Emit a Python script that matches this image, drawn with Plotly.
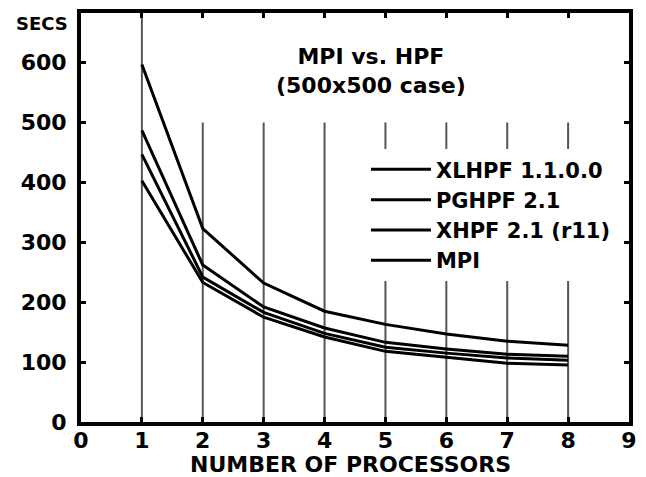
import plotly.graph_objects as go

processors = [1, 2, 3, 4, 5, 6, 7, 8]
series_names = ["XLHPF 1.1.0.0", "PGHPF 2.1", "XHPF 2.1 (r11)", "MPI"]
xlhpf = [597, 323, 232, 185, 163, 147, 135, 128]
pghpf = [487, 262, 192, 157, 133, 122, 113, 110]
xhpf = [447, 242, 183, 148, 125, 115, 107, 103]
mpi = [403, 233, 175, 142, 118, 108, 98, 95]
series_values = [xlhpf, pghpf, xhpf, mpi]

grid_x = [1, 2, 3, 4, 5, 6, 7, 8]
grid_top = [683, 500, 500, 500, 500, 500, 500, 500]

x_ticks = [0, 1, 2, 3, 4, 5, 6, 7, 8, 9]
y_ticks = [0, 100, 200, 300, 400, 500, 600]

FONT = "DejaVu Sans"

fig = go.Figure()

gx, gy = [], []
for x, top in zip(grid_x, grid_top):
    gx += [x, x, None]
    gy += [0, top, None]
fig.add_trace(go.Scatter(x=gx, y=gy, mode="lines",
                         line=dict(color="#555555", width=2),
                         showlegend=False, hoverinfo="skip"))

for name, vals in zip(series_names, series_values):
    fig.add_trace(go.Scatter(x=processors, y=vals, mode="lines", name=name,
                             line=dict(color="black", width=3)))

fig.update_layout(
    width=646, height=477,
    margin=dict(l=81, r=9, t=12, b=55),
    paper_bgcolor="white", plot_bgcolor="white",
    font=dict(family=FONT, size=22, color="black", weight="bold"),
    showlegend=True,
    legend=dict(x=0.52, y=0.667, xanchor="left", yanchor="top",
                bgcolor="white", borderwidth=0,
                font=dict(family=FONT, size=21, color="black", weight="bold"),
                tracegroupgap=0, itemwidth=60),
    xaxis=dict(range=[0, 9], tickvals=x_ticks, ticktext=[str(v) for v in x_ticks],
               showgrid=False, zeroline=False, showline=True, linecolor="black",
               linewidth=4, mirror="ticks", ticks="inside", ticklen=5,
               tickwidth=3, tickcolor="black", ticklabelstandoff=-4,
               tickfont=dict(family=FONT, size=22, weight="bold")),
    yaxis=dict(range=[0, 683], tickvals=y_ticks, ticktext=[str(v) for v in y_ticks],
               showgrid=False, zeroline=False, showline=True, linecolor="black",
               linewidth=4, mirror="ticks", ticks="inside", ticklen=5,
               tickwidth=3, tickcolor="black", ticklabelstandoff=6,
               tickfont=dict(family=FONT, size=22, weight="bold")),
    annotations=[
        dict(text="SECS", xref="paper", yref="paper", x=-0.02, y=0.975,
             xanchor="right", yanchor="middle", showarrow=False,
             font=dict(family=FONT, size=18, weight="bold")),
        dict(text="MPI vs. HPF<br>(500x500 case)", xref="paper", yref="paper",
             x=(375 - 81) / 556, y=(422 - 70) / 410, xanchor="center", yanchor="middle",
             showarrow=False, align="center",
             font=dict(family=FONT, size=22, weight="bold")),
        dict(text="NUMBER OF PROCESSORS", xref="paper", yref="paper",
             x=(354 - 81) / 556, y=(422 - 465) / 410, xanchor="center", yanchor="middle",
             showarrow=False, font=dict(family=FONT, size=22, weight="bold")),
    ],
)

fig.write_html("out.html")
